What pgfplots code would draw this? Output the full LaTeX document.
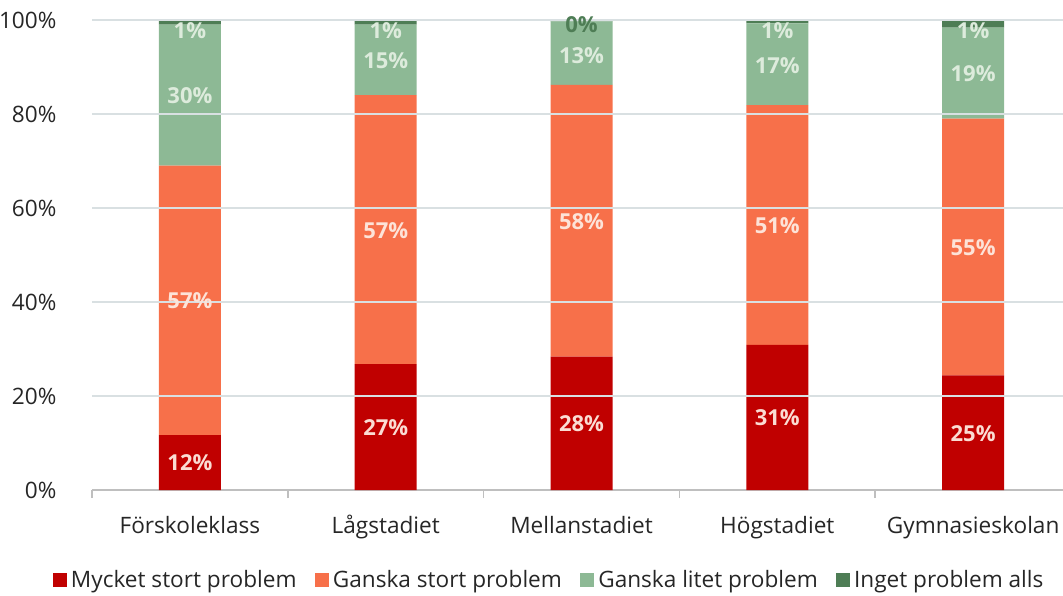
\documentclass[border=0pt]{standalone}
\usepackage{pgfplots}
\pgfplotsset{compat=1.18}
\usepackage{pgfplotstable}
\usepackage{fontspec}
\setmainfont{Open Sans}
\definecolor{cRed}{HTML}{C00000}
\definecolor{cOrange}{HTML}{F7704A}
\definecolor{cLGreen}{HTML}{8DB995}
\definecolor{cDGreen}{HTML}{4E7D55}
\definecolor{gridc}{RGB}{217,224,226}
\definecolor{axisc}{RGB}{191,191,191}
\definecolor{labRed}{HTML}{FBDCD3}
\definecolor{labOr}{HTML}{FDE3D8}
\definecolor{labGr}{HTML}{DDEBDC}
\definecolor{textc}{HTML}{262626}

\pgfplotstableread{
x mycket ganska litet inget
0 11.7 57.3 30.0 1.0
1 26.8 57.2 15.0 1.0
2 28.4 57.8 13.5 0.3
3 30.9 51.0 17.4 0.7
4 24.4 54.6 19.4 1.6
}\data

\begin{document}
\begin{tikzpicture}
\pgfplotsset{
  base/.style={
    at={(0,0)}, anchor=south west,
    width=485.5pt, height=235pt, scale only axis,
    xmin=-0.5, xmax=4.459, ymin=0, ymax=100,
  }
}
\begin{axis}[base,
  ybar stacked, bar width=31pt,
  axis x line*=bottom,
  axis y line*=left,
  y axis line style={draw=none},
  x axis line style={draw=axisc, line width=0.8pt, -},
  xtick={0,1,2,3,4},
  xticklabels={Förskoleklass,Lågstadiet,Mellanstadiet,Högstadiet,Gymnasieskolan},
  xtick style={draw=none},
  minor xtick={-0.5,0.5,1.5,2.5,3.5},
  minor tick length=4pt, tick align=outside,
  minor x tick style={draw=axisc, line width=0.8pt},
  xticklabel style={font=\fontsize{11.3}{13}\selectfont, text=textc, yshift=-5.5pt,
    text height=8.6pt, text depth=2.6pt},
  ytick={0,20,40,60,80,100},
  yticklabels={0\%,20\%,40\%,60\%,80\%,100\%},
  ytick style={draw=none},
  yticklabel style={font=\fontsize{11.3}{13}\selectfont, text=textc, xshift=-10pt},
  legend style={at={(0.4717,-0.1915)}, anchor=center, draw=none, fill=none,
    font=\fontsize{11.3}{13}\selectfont, text=textc,
    /tikz/every even column/.append style={column sep=7pt}},
  legend columns=-1,
  legend image code/.code={\fill[#1] (0pt,-3.6pt) rectangle (7.2pt,3.6pt);},
  clip=false,
]
\draw[gridc, line width=0.6pt] (axis cs:-0.5,20) -- (axis cs:4.459,20);
\draw[gridc, line width=0.6pt] (axis cs:-0.5,40) -- (axis cs:4.459,40);
\draw[gridc, line width=0.6pt] (axis cs:-0.5,60) -- (axis cs:4.459,60);
\draw[gridc, line width=0.6pt] (axis cs:-0.5,80) -- (axis cs:4.459,80);
\draw[gridc, line width=0.6pt] (axis cs:-0.5,100) -- (axis cs:4.459,100);
\addplot[fill=cRed, draw=none] table[x=x, y=mycket] {\data};
\addplot[fill=cOrange, draw=none] table[x=x, y=ganska] {\data};
\addplot[fill=cLGreen, draw=none] table[x=x, y=litet] {\data};
\addplot[fill=cDGreen, draw=none] table[x=x, y=inget] {\data};
\legend{Mycket stort problem, Ganska stort problem, Ganska litet problem, Inget problem alls}
\end{axis}

\begin{axis}[base,
  axis lines=none, ticks=none,
  point meta=explicit symbolic,
  nodes near coords={\pgfplotspointmeta\%},
  every node near coord/.append style={anchor=center, font=\bfseries\fontsize{11}{13}\selectfont},
  clip=false,
]
\addplot[only marks, mark=none, nodes near coords style={text=labRed}] coordinates {
(0,5.85) [12] (1,13.2) [27] (2,14.2) [28] (3,15.3) [31] (4,12.0) [25]};
\addplot[only marks, mark=none, nodes near coords style={text=labOr}] coordinates {
(0,40.2) [57] (1,55.2) [57] (2,57.1) [58] (3,56.2) [51] (4,51.5) [55]};
\addplot[only marks, mark=none, nodes near coords style={text=labGr}] coordinates {
(0,84.0) [30] (1,91.3) [15] (2,92.5) [13] (3,90.3) [17] (4,88.6) [19]
(0,97.7) [1] (1,97.7) [1] (3,97.7) [1] (4,97.7) [1]};
\addplot[only marks, mark=none, nodes near coords style={text=cDGreen}] coordinates {
(2,99.0) [0]};
\end{axis}
\pgfresetboundingbox
\useasboundingbox (-46pt,-52.5pt) rectangle (485.5pt,245pt);
\end{tikzpicture}
\end{document}
